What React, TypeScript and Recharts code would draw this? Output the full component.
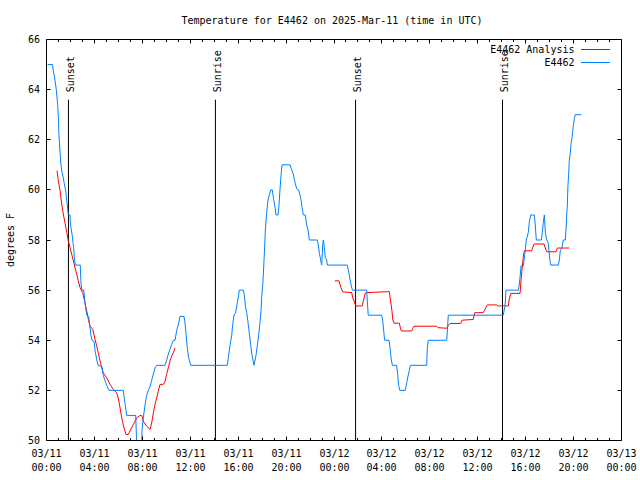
import React from 'react';
import { LineChart, Line, XAxis, YAxis, ReferenceLine, Legend } from 'recharts';

const FONT = "'DejaVu Sans Mono', 'Liberation Mono', monospace";
const RED = '#ff0000';
const BLUE = '#0080ff';

const TITLE = 'Temperature for E4462 on 2025-Mar-11 (time in UTC)';
const Y_LABEL = 'degrees F';
const OBS_NAME = 'E4462';
const ANA_NAME = 'E4462 Analysis';

// hours since 03/11 00:00 UTC, temperature in degrees F
const obsSeries: [number, number][] = [
  [0.10, 65.0], [0.50, 65.0], [0.57, 64.75], [0.65, 64.55], [0.73, 64.3], [0.82, 64.0], [0.93, 63.4],
  [0.99, 62.9], [1.04, 62.2], [1.13, 61.5], [1.21, 61.0], [1.29, 60.7], [1.40, 60.5], [1.46, 60.3],
  [1.59, 60.0], [1.71, 59.5], [1.82, 59.0], [1.96, 59.0], [2.00, 58.6], [2.13, 58.24], [2.21, 57.9],
  [2.27, 57.7], [2.32, 57.3], [2.40, 57.0], [2.82, 57.0], [2.88, 56.24], [2.96, 56.0], [3.11, 56.0],
  [3.19, 55.6], [3.27, 55.3], [3.36, 55.0], [3.52, 54.95], [3.61, 54.6], [3.71, 54.2], [3.80, 54.0],
  [3.97, 53.95], [4.05, 53.6], [4.19, 53.24], [4.30, 53.0], [4.63, 52.95], [4.74, 52.6], [4.88, 52.4],
  [5.03, 52.2], [5.22, 52.0], [6.41, 52.0], [6.47, 51.75], [6.58, 51.4], [6.70, 51.0], [7.45, 51.0],
  [7.53, 49.8], [7.95, 49.8], [7.97, 50.4], [8.08, 50.9], [8.22, 51.4], [8.36, 51.8], [8.50, 52.0],
  [8.64, 52.15], [8.78, 52.4], [8.92, 52.65], [9.06, 52.9], [9.20, 53.0], [9.89, 53.0], [10.03, 53.2],
  [10.17, 53.45], [10.31, 53.64], [10.45, 53.84], [10.59, 54.0], [10.73, 54.0], [10.87, 54.4],
  [11.00, 54.6], [11.14, 54.95], [11.48, 54.95], [11.56, 54.7], [11.65, 54.24], [11.75, 53.7],
  [11.87, 53.3], [12.04, 53.0], [15.09, 53.0], [15.18, 53.3], [15.32, 53.8], [15.46, 54.2],
  [15.54, 54.6], [15.65, 55.0], [15.79, 55.1], [15.93, 55.5], [16.04, 55.8], [16.09, 56.0],
  [16.43, 56.0], [16.51, 55.8], [16.60, 55.4], [16.71, 55.1], [16.80, 54.8], [16.90, 54.4],
  [17.05, 53.8], [17.16, 53.4], [17.32, 53.0], [17.49, 53.4], [17.60, 53.8], [17.71, 54.2],
  [17.82, 54.7], [17.91, 55.2], [17.96, 55.7], [18.05, 56.2], [18.10, 56.6], [18.18, 57.4],
  [18.27, 58.4], [18.38, 59.1], [18.49, 59.6], [18.60, 59.8], [18.72, 60.0], [18.85, 60.0],
  [18.97, 59.6], [19.08, 59.3], [19.16, 59.0], [19.33, 59.0], [19.41, 59.4], [19.49, 60.0],
  [19.58, 60.6], [19.66, 61.0], [20.33, 61.0], [20.44, 60.84], [20.60, 60.64], [20.74, 60.3],
  [20.89, 60.04], [21.05, 60.0], [21.16, 59.8], [21.25, 59.6], [21.33, 59.3], [21.44, 59.0],
  [21.60, 59.0], [21.72, 58.6], [21.83, 58.4], [21.94, 58.0], [22.61, 58.0], [22.69, 57.8],
  [22.77, 57.5], [22.89, 57.2], [22.97, 57.0], [23.06, 57.8], [23.11, 58.0], [23.19, 57.7],
  [23.27, 57.3], [23.39, 57.2], [23.44, 57.0], [25.11, 57.0], [25.19, 56.8], [25.28, 56.6],
  [25.36, 56.37], [25.44, 56.17], [25.54, 56.0], [26.73, 56.0], [26.78, 55.57], [26.86, 55.0],
  [27.98, 55.0], [28.07, 54.77], [28.15, 54.37], [28.23, 54.0], [28.59, 54.0], [28.68, 53.7],
  [28.76, 53.3], [28.87, 53.0], [29.23, 53.0], [29.32, 52.6], [29.40, 52.2], [29.49, 52.0],
  [29.95, 52.0], [30.07, 52.3], [30.18, 52.57], [30.29, 52.8], [30.37, 53.0], [31.74, 53.0],
  [31.79, 53.7], [31.87, 54.0], [33.41, 54.0], [33.46, 54.37], [33.54, 55.0], [38.13, 55.0],
  [38.28, 55.4], [38.36, 56.0], [39.39, 56.0], [39.47, 56.24], [39.55, 56.6], [39.61, 56.96],
  [39.80, 56.96], [39.89, 57.3], [39.97, 57.6], [40.05, 58.0], [40.22, 58.3], [40.30, 58.7],
  [40.42, 59.0], [40.72, 59.0], [40.80, 58.6], [40.89, 58.0], [41.31, 58.0], [41.39, 58.3],
  [41.47, 58.7], [41.56, 59.0], [41.64, 58.3], [41.76, 58.0], [41.87, 57.9], [41.95, 57.57],
  [42.03, 57.17], [42.09, 57.0], [42.73, 57.0], [42.81, 57.2], [42.89, 57.57], [43.03, 57.7],
  [43.14, 58.0], [43.31, 58.0], [43.37, 58.44], [43.43, 59.04], [43.48, 59.4], [43.53, 60.17],
  [43.59, 60.64], [43.64, 61.17], [43.73, 61.5], [43.78, 61.81], [43.87, 62.1], [43.98, 62.57],
  [44.06, 62.84], [44.14, 63.0], [44.64, 63.0],
];

const anaSeries: [number, number | null][] = [
  [0.88, 60.77], [0.99, 60.37], [1.13, 59.97], [1.27, 59.44], [1.40, 59.04], [1.54, 58.7],
  [1.69, 58.3], [1.82, 57.97], [1.96, 57.7], [2.10, 57.44], [2.24, 57.17], [2.38, 56.9],
  [2.52, 56.64], [2.65, 56.37], [2.80, 56.1], [3.02, 55.9], [3.21, 55.5], [3.36, 55.17],
  [3.49, 54.84], [3.63, 54.57], [3.86, 54.44], [4.05, 54.04], [4.19, 53.77], [4.32, 53.5],
  [4.47, 53.17], [4.61, 52.9], [4.74, 52.7], [5.03, 52.5], [5.30, 52.24], [5.58, 52.04],
  [5.86, 51.9], [5.99, 51.7], [6.14, 51.3], [6.28, 50.9], [6.47, 50.5], [6.64, 50.24],
  [6.83, 50.24], [7.03, 50.44], [7.25, 50.64], [7.53, 50.9], [7.81, 51.0], [7.95, 51.0],
  [8.08, 50.77], [8.36, 50.57], [8.64, 50.44], [8.78, 50.7], [8.92, 51.1], [9.06, 51.44],
  [9.20, 51.7], [9.33, 51.97], [9.48, 52.24], [9.75, 52.24], [9.89, 52.35], [10.03, 52.64],
  [10.17, 52.9], [10.31, 53.17], [10.45, 53.37], [10.59, 53.5], [10.73, 53.7],
  [15.0, null],
  [24.08, 56.37], [24.42, 56.37], [24.50, 56.24], [24.58, 56.1], [24.73, 55.93], [25.48, 55.9],
  [25.56, 55.7], [25.67, 55.57], [25.81, 55.37], [26.36, 55.37], [26.45, 55.57], [26.59, 55.84],
  [26.67, 55.9], [28.62, 55.94], [28.68, 55.7], [28.76, 55.44], [28.84, 55.17], [28.90, 54.84],
  [29.01, 54.68], [29.45, 54.68], [29.54, 54.5], [29.62, 54.37], [30.49, 54.37], [30.57, 54.47],
  [30.68, 54.56], [32.57, 54.56], [32.68, 54.5], [33.41, 54.48], [33.54, 54.58], [33.68, 54.67],
  [34.58, 54.67], [34.69, 54.8], [35.63, 54.83], [35.75, 55.1], [36.46, 55.1], [36.61, 55.24],
  [36.80, 55.41], [37.58, 55.41], [37.72, 55.37], [38.55, 55.37], [38.63, 55.64], [38.75, 55.87],
  [39.53, 55.87], [39.61, 56.37], [39.72, 56.96], [39.80, 57.3], [39.89, 57.57], [40.50, 57.57],
  [40.59, 57.7], [40.70, 57.84], [41.53, 57.84], [41.64, 57.68], [41.76, 57.53], [42.53, 57.53],
  [42.64, 57.68], [43.64, 57.68],
];

const sunEvents = [
  { name: 'Sunset', hour: 1.833 },
  { name: 'Sunrise', hour: 14.1 },
  { name: 'Sunset', hour: 25.8 },
  { name: 'Sunrise', hour: 38.067 },
];
const SUN_LINE_TOP = 63.6;

const majorHours = [0, 4, 8, 12, 16, 20, 24, 28, 32, 36, 40, 44, 48];
const dateLabels = ['03/11', '03/11', '03/11', '03/11', '03/11', '03/11', '03/12', '03/12', '03/12', '03/12', '03/12', '03/12', '03/13'];
const timeLabels = ['00:00', '04:00', '08:00', '12:00', '16:00', '20:00', '00:00', '04:00', '08:00', '12:00', '16:00', '20:00', '00:00'];
const hourTicks = Array.from({ length: 49 }, (_, i) => i);
const yTicks = [50, 52, 54, 56, 58, 60, 62, 64, 66];

const obsData = obsSeries.map(([t, v]) => ({ t, v }));
const anaData = anaSeries.map(([t, v]) => ({ t, v }));

const crisp = (v: number) => Math.round(v - 0.5) + 0.5;

function BottomTick(props: any) {
  const { x, y, payload } = props;
  const i = majorHours.indexOf(payload.value);
  const cx = crisp(x);
  const ay = crisp(y);
  return (
    <g>
      <line x1={cx} x2={cx} y1={ay} y2={ay - (i >= 0 ? 4 : 2.5)} stroke="#000" strokeWidth={1} />
      {i >= 0 && (
        <text textAnchor="middle" fontFamily={FONT} fontSize={10} fill="#000">
          <tspan x={cx} y={ay + 16.8}>{dateLabels[i]}</tspan>
          <tspan x={cx} y={ay + 30.2}>{timeLabels[i]}</tspan>
        </text>
      )}
    </g>
  );
}

function TopTick(props: any) {
  const { x, y, payload } = props;
  const major = majorHours.indexOf(payload.value) >= 0;
  const cx = crisp(x);
  const ay = crisp(y);
  return <line x1={cx} x2={cx} y1={ay} y2={ay + (major ? 4 : 2.5)} stroke="#000" strokeWidth={1} />;
}

function LeftTick(props: any) {
  const { x, y, payload } = props;
  const ax = crisp(x);
  const yy = crisp(y);
  return (
    <g>
      <line x1={ax} x2={ax + 4} y1={yy} y2={yy} stroke="#000" strokeWidth={1} />
      <text x={ax - 6.5} y={yy + 3.6} textAnchor="end" fontFamily={FONT} fontSize={10} fill="#000">
        {payload.value}
      </text>
    </g>
  );
}

function RightTick(props: any) {
  const { x, y } = props;
  const ax = crisp(x);
  const yy = crisp(y);
  return <line x1={ax} x2={ax - 4} y1={yy} y2={yy} stroke="#000" strokeWidth={1} />;
}

function YLabel(props: any) {
  const vb = props.viewBox || { x: 0, y: 39.5, width: 40, height: 401 };
  const cy = vb.y + vb.height / 2;
  const cx = 10.5;
  return (
    <text
      transform={`translate(${cx},${cy}) rotate(-90)`}
      textAnchor="middle"
      dy="0.35em"
      fontFamily={FONT}
      fontSize={10}
      fill="#000"
    >
      {Y_LABEL}
    </text>
  );
}

function SunLabel(props: any) {
  const vb = props.viewBox || { x: 0, y: 0 };
  const lx = crisp(vb.x) + 5;
  const ly = vb.y - 7.3;
  return (
    <text
      transform={`translate(${lx},${ly}) rotate(-90)`}
      textAnchor="start"
      fontFamily={FONT}
      fontSize={10}
      fill="#000"
    >
      {props.text}
    </text>
  );
}

function LegendBox() {
  const rows = [
    { name: ANA_NAME, color: RED, y: 49.5 },
    { name: OBS_NAME, color: BLUE, y: 62.5 },
  ];
  return (
    <svg width={640} height={480} style={{ display: 'block' }}>
      {rows.map((r) => (
        <g key={r.name}>
          <text x={574.5} y={r.y + 3.8} textAnchor="end" fontFamily={FONT} fontSize={10} fill="#000">
            {r.name}
          </text>
          <line x1={581} x2={610} y1={r.y} y2={r.y} stroke={r.color} strokeWidth={1} />
        </g>
      ))}
    </svg>
  );
}

export default function App() {
  return (
    <div style={{ position: 'absolute', left: 0, top: 0, width: 640, height: 480, background: '#fff' }}>
      <LineChart width={640} height={480} margin={{ top: 38.5, right: 17.5, bottom: 4.5, left: 6.5 }}>
        <XAxis
          dataKey="t"
          type="number"
          domain={[0, 48]}
          ticks={hourTicks}
          interval={0}
          allowDataOverflow
          height={35}
          tick={<BottomTick />}
          tickLine={false}
          tickSize={0}
          tickMargin={0}
          axisLine={{ stroke: '#000', strokeWidth: 1 }}
        />
        <XAxis
          xAxisId="top"
          orientation="top"
          dataKey="t"
          type="number"
          domain={[0, 48]}
          ticks={hourTicks}
          interval={0}
          allowDataOverflow
          height={1}
          tick={<TopTick />}
          tickLine={false}
          tickSize={0}
          tickMargin={0}
          axisLine={{ stroke: '#000', strokeWidth: 1 }}
        />
        <YAxis
          type="number"
          domain={[50, 66]}
          ticks={yTicks}
          interval={0}
          allowDataOverflow
          width={40}
          tick={<LeftTick />}
          tickLine={false}
          tickSize={0}
          tickMargin={0}
          axisLine={{ stroke: '#000', strokeWidth: 1 }}
          label={<YLabel />}
        />
        <YAxis
          yAxisId="right"
          orientation="right"
          type="number"
          domain={[50, 66]}
          ticks={yTicks}
          interval={0}
          allowDataOverflow
          width={1}
          tick={<RightTick />}
          tickLine={false}
          tickSize={0}
          tickMargin={0}
          axisLine={{ stroke: '#000', strokeWidth: 1 }}
        />
        {sunEvents.map((s, i) => (
          <ReferenceLine
            key={i}
            segment={[{ x: s.hour, y: 50 }, { x: s.hour, y: SUN_LINE_TOP }]}
            stroke="#000"
            strokeWidth={1}
            label={<SunLabel text={s.name} />}
          />
        ))}
        <Line
          data={anaData}
          dataKey="v"
          name={ANA_NAME}
          type="linear"
          stroke={RED}
          strokeWidth={1}
          dot={false}
          activeDot={false}
          connectNulls={false}
          isAnimationActive={false}
        />
        <Line
          data={obsData}
          dataKey="v"
          name={OBS_NAME}
          type="linear"
          stroke={BLUE}
          strokeWidth={1}
          dot={false}
          activeDot={false}
          isAnimationActive={false}
        />
        <Legend
          layout="horizontal"
          verticalAlign="middle"
          align="center"
          wrapperStyle={{ position: 'absolute', left: 0, top: 0, width: 640, height: 480, pointerEvents: 'none' }}
          content={() => <LegendBox />}
        />
      </LineChart>
      <svg
        width={640}
        height={480}
        style={{ position: 'absolute', left: 0, top: 0, pointerEvents: 'none' }}
      >
        <text x={332} y={24} textAnchor="middle" fontFamily={FONT} fontSize={10} fill="#000">
          {TITLE}
        </text>
      </svg>
    </div>
  );
}
